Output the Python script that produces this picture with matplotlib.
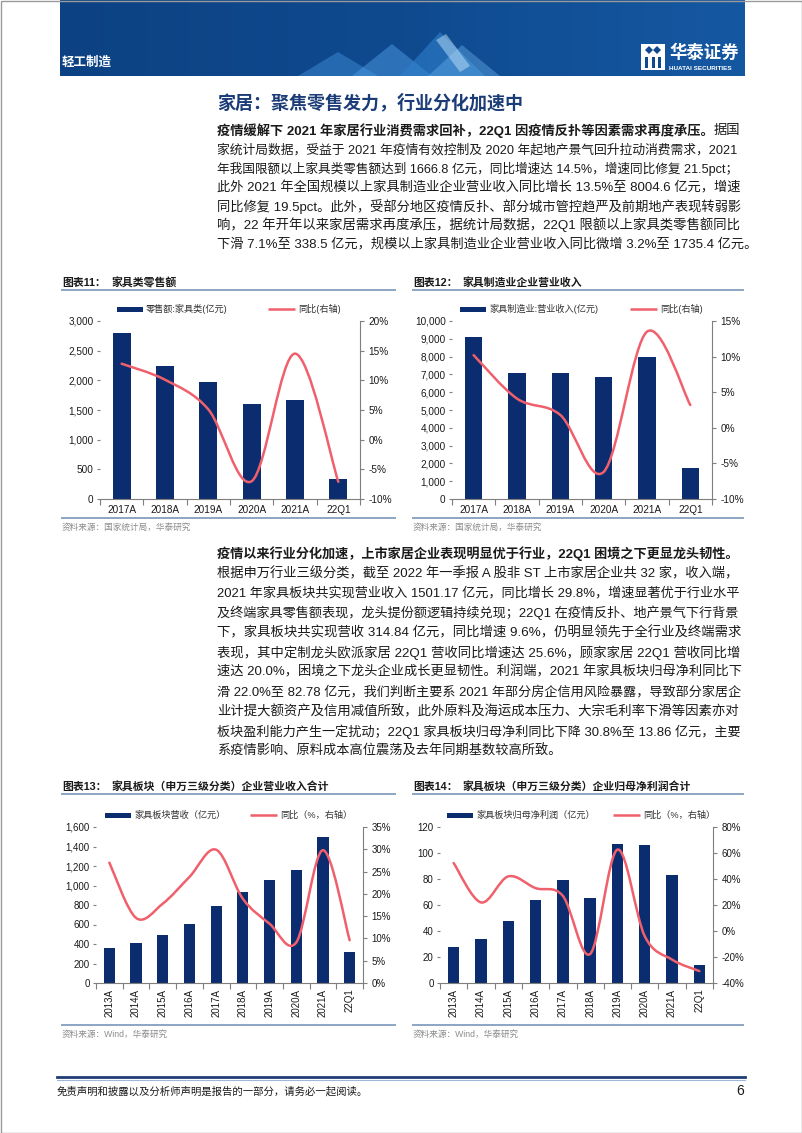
import matplotlib
matplotlib.use('Agg')
import matplotlib.pyplot as plt
import numpy as np
from matplotlib.patches import Rectangle, PathPatch, Polygon
from matplotlib.path import Path
from matplotlib.ticker import FuncFormatter, MultipleLocator, FixedLocator
from matplotlib.colors import LinearSegmentedColormap

plt.rcParams['font.family'] = ['Liberation Sans', 'Noto Sans CJK SC', 'DejaVu Sans']

# ---- data ----
cats_a = ['2017A', '2018A', '2019A', '2020A', '2021A', '22Q1']
retail = [2803, 2242, 1966, 1596, 1666.8, 338.5]          # 零售额:家具类(亿元)
retail_yoy = [12.8, 10.1, 5.1, -7.0, 14.5, -7.1]          # 同比 %
mfg_rev = [9101, 7060, 7097, 6873, 8004.6, 1735.4]        # 家具制造业:营业收入(亿元)
mfg_yoy = [10.2, 4.1, 1.8, -6.2, 13.5, 3.2]

cats_b = ['2013A', '2014A', '2015A', '2016A', '2017A', '2018A',
          '2019A', '2020A', '2021A', '22Q1']
sector_rev = [359, 414, 489, 605, 786, 937, 1060, 1162, 1501.17, 314.84]
sector_rev_yoy = [27.0, 14.6, 17.8, 23.8, 29.9, 18.9, 13.3, 9.1, 29.8, 9.6]
sector_np = [27.7, 33.6, 47.9, 63.6, 79.5, 65.6, 106.9, 106.1, 82.78, 13.86]
sector_np_yoy = [52.3, 22.0, 42.0, 33.0, 27.0, -17.7, 62.6, -4.0, -22.0, -30.8]

para1 = [
    [('疫情缓解下 2021 年家居行业消费需求回补，22Q1 因疫情反扑等因素需求再度承压。', 'bold'), ('据国', 'normal')],
    [('家统计局数据，受益于 2021 年疫情有效控制及 2020 年起地产景气回升拉动消费需求，2021', 'normal')],
    [('年我国限额以上家具类零售额达到 1666.8 亿元，同比增速达 14.5%，增速同比修复 21.5pct；', 'normal')],
    [('此外 2021 年全国规模以上家具制造业企业营业收入同比增长 13.5%至 8004.6 亿元，增速', 'normal')],
    [('同比修复 19.5pct。此外，受部分地区疫情反扑、部分城市管控趋严及前期地产表现转弱影', 'normal')],
    [('响，22 年开年以来家居需求再度承压，据统计局数据，22Q1 限额以上家具类零售额同比', 'normal')],
    [('下滑 7.1%至 338.5 亿元，规模以上家具制造业企业营业收入同比微增 3.2%至 1735.4 亿元。', 'normal')],
]
para2 = [
    [('疫情以来行业分化加速，上市家居企业表现明显优于行业，22Q1 困境之下更显龙头韧性。', 'bold')],
    [('根据申万行业三级分类，截至 2022 年一季报 A 股非 ST 上市家居企业共 32 家，收入端，', 'normal')],
    [('2021 年家具板块共实现营业收入 1501.17 亿元，同比增长 29.8%，增速显著优于行业水平', 'normal')],
    [('及终端家具零售额表现，龙头提份额逻辑持续兑现；22Q1 在疫情反扑、地产景气下行背景', 'normal')],
    [('下，家具板块共实现营收 314.84 亿元，同比增速 9.6%，仍明显领先于全行业及终端需求', 'normal')],
    [('表现，其中定制龙头欧派家居 22Q1 营收同比增速达 25.6%，顾家家居 22Q1 营收同比增', 'normal')],
    [('速达 20.0%，困境之下龙头企业成长更显韧性。利润端，2021 年家具板块归母净利同比下', 'normal')],
    [('滑 22.0%至 82.78 亿元，我们判断主要系 2021 年部分房企信用风险暴露，导致部分家居企', 'normal')],
    [('业计提大额资产及信用减值所致，此外原料及海运成本压力、大宗毛利率下滑等因素亦对', 'normal')],
    [('板块盈利能力产生一定扰动；22Q1 家具板块归母净利同比下降 30.8%至 13.86 亿元，主要', 'normal')],
    [('系疫情影响、原料成本高位震荡及去年同期基数较高所致。', 'normal')],
]

NAVY = '#0B2D6F'
RED = '#F0606C'
GREY = '#7F7F7F'
RULE = '#8CA5C4'
TEXT = '#1A1A1A'

W, H = 802, 1133
fig = plt.figure(figsize=(W / 100, H / 100), dpi=100)
renderer = fig.canvas.get_renderer()

# page-level drawing axes in pixel coordinates
bg = fig.add_axes([0, 0, 1, 1], zorder=-5)
bg.set_xlim(0, W)
bg.set_ylim(H, 0)
bg.axis('off')
bg.add_patch(Rectangle((0.5, 0.5), W - 1, H - 1, fill=False, edgecolor='#9A9A9A', lw=1))

# header banner
grad = LinearSegmentedColormap.from_list('banner', ['#0C4283', '#0F4A8F', '#1558A2'])
bg.imshow(np.linspace(0, 1, 256)[None, :], extent=(60, 745, 76, 0), cmap=grad, aspect='auto')
for pts, c, a in [
    ([(298, 76), (338, 52), (378, 76)], '#3D8AD6', 0.5),
    ([(352, 76), (392, 44), (432, 76)], '#4C9BE2', 0.5),
    ([(400, 76), (440, 32), (485, 76)], '#2F7FCC', 0.6),
    ([(428, 76), (462, 45), (500, 76)], '#6BB4EE', 0.4),
    ([(436, 40), (446, 34), (470, 66), (460, 72)], '#BFE2FA', 0.5),
]:
    bg.add_patch(Polygon(pts, closed=True, color=c, alpha=a, lw=0))
bg.text(62, 63, '轻工制造', color='white', fontsize=9, fontweight='bold', va='center')
bg.add_patch(Rectangle((641, 44), 24, 26, color='white', lw=0))
bg.add_patch(Polygon([(645, 50), (649, 46), (653, 50), (649, 54)], color='#0F4A8F', lw=0))
bg.add_patch(Polygon([(653, 50), (657, 46), (661, 50), (657, 54)], color='#0F4A8F', lw=0))
for xb in (645, 651.5, 658):
    bg.add_patch(Rectangle((xb, 57), 3, 11, color='#0F4A8F', lw=0))
bg.text(669, 52, '华泰证券', color='white', fontsize=12.5, fontweight='bold', va='center')
bg.text(669, 68, 'HUATAI SECURITIES', color='white', fontsize=4.6, fontweight='bold', va='center')

# section title
bg.text(217, 103, '家居：聚焦零售发力，行业分化加速中', color='#1C3C78', fontsize=13,
        fontweight='bold', va='center')


def text_width(s, size, weight):
    t = bg.text(0, 0, s, fontsize=size, fontweight=weight)
    w = t.get_window_extent(renderer).width
    t.remove()
    return w


def draw_para(lines, x, y0, dy, size, width):
    for i, parts in enumerate(lines):
        fs = size
        if i < len(lines) - 1:
            total = sum(text_width(s, size, wt) for s, wt in parts)
            fs = size * np.clip(width / total, 0.92, 1.08)
        cx = x
        for s, wt in parts:
            t = bg.text(cx, y0 + i * dy, s, fontsize=fs, fontweight=wt, color=TEXT,
                        va='center', ha='left')
            cx += t.get_window_extent(renderer).width


draw_para(para1, 217, 131, 18.8, 9.5, 525)
draw_para(para2, 217, 554, 19.7, 9.5, 525)


def chart_frame(x0, x1, y_title, num, title, y_src, src):
    bg.text(x0, y_title, f'图表{num}：', fontsize=7.8, fontweight='bold', color=TEXT, va='center')
    bg.text(x0 + 50, y_title, title, fontsize=7.8, fontweight='bold', color=TEXT, va='center')
    bg.plot([x0, x1], [y_title + 6.5, y_title + 6.5], color=RULE, lw=1.4)
    bg.plot([x0, x1], [y_src - 9, y_src - 9], color=RULE, lw=1.4)
    bg.text(x0, y_src, src, fontsize=6.2, color='#8C8C8C', va='center')


def legend(y, bx, btext, lx, ltext):
    bg.add_patch(Rectangle((bx, y - 2.5), 26, 5, color=NAVY, lw=0))
    bg.text(bx + 29, y, btext, fontsize=6.6, color='#333333', va='center')
    bg.plot([lx, lx + 27], [y, y], color=RED, lw=1.8, solid_capstyle='butt')
    bg.text(lx + 30, y, ltext, fontsize=6.6, color='#333333', va='center')


def smooth_path(xs, ys):
    pts = np.column_stack([xs, ys]).astype(float)
    n = len(pts)
    verts = [pts[0]]
    codes = [Path.MOVETO]
    for i in range(n - 1):
        p0 = pts[i - 1] if i > 0 else pts[i]
        p1, p2 = pts[i], pts[i + 1]
        p3 = pts[i + 2] if i + 2 < n else pts[i + 1]
        verts += [p1 + (p2 - p0) / 6, p2 - (p3 - p1) / 6, p2]
        codes += [Path.CURVE4] * 3
    return Path(verts, codes)


def chart(box, cats, bars, yoy, ylim, ystep, y2lim, y2step, rot, bw, fs):
    l, t, r, b = box
    ax = fig.add_axes([l / W, 1 - b / H, (r - l) / W, (b - t) / H])
    ax.patch.set_alpha(0)
    x = np.arange(len(cats))
    ax.bar(x, bars, width=bw, color=NAVY, zorder=2)
    ax.set_xlim(-0.5, len(cats) - 0.5)
    ax.set_ylim(*ylim)
    ax.yaxis.set_major_locator(MultipleLocator(ystep))
    ax.yaxis.set_major_formatter(FuncFormatter(lambda v, p: f'{v:,.0f}'))
    ax.set_xticks(x)
    if rot:
        ax.set_xticklabels(cats, rotation=90, va='top', ha='center')
    else:
        ax.set_xticklabels(cats)
    ax.xaxis.set_minor_locator(FixedLocator(np.arange(len(cats) + 1) - 0.5))
    ax.tick_params(axis='x', which='major', length=0, pad=4, labelsize=fs, labelcolor=TEXT)
    ax.tick_params(axis='x', which='minor', length=4, color=GREY, width=0.8)
    ax.tick_params(axis='y', length=2.5, color=GREY, width=0.8, pad=2, labelsize=fs, labelcolor=TEXT)
    for s in ('top', 'left', 'right'):
        ax.spines[s].set_visible(False)
    ax.spines['bottom'].set_color(GREY)
    ax.spines['bottom'].set_linewidth(0.8)

    ax2 = ax.twinx()
    ax2.set_ylim(*y2lim)
    ax2.yaxis.set_major_locator(MultipleLocator(y2step))
    ax2.yaxis.set_major_formatter(FuncFormatter(lambda v, p: f'{v:.0f}%'))
    ax2.tick_params(axis='y', length=3, color=GREY, width=0.8, pad=3, labelsize=fs, labelcolor=TEXT)
    for s in ('top', 'left', 'bottom'):
        ax2.spines[s].set_visible(False)
    ax2.spines['right'].set_color(GREY)
    ax2.spines['right'].set_linewidth(0.8)
    ax2.add_patch(PathPatch(smooth_path(x, yoy), fill=False, edgecolor=RED, lw=1.8,
                            capstyle='round', joinstyle='round'))
    return ax, ax2


# 图表11
chart_frame(62, 395, 283, 11, '家具类零售额', 527, '资料来源：国家统计局，华泰研究')
legend(309, 117, '零售额:家具类(亿元)', 268, '同比(右轴)')
chart((100, 321, 360, 499), cats_a, retail, retail_yoy, (0, 3000), 500, (-10, 20), 5, False, 0.42, 7.2)

# 图表12
chart_frame(413, 743, 283, 12, '家具制造业企业营业收入', 527, '资料来源：国家统计局，华泰研究')
legend(309, 460, '家具制造业:营业收入(亿元)', 630, '同比(右轴)')
chart((452, 321, 712, 499), cats_a, mfg_rev, mfg_yoy, (0, 10000), 1000, (-10, 15), 5, False, 0.4, 7.2)

# 图表13
chart_frame(62, 395, 787, 13, '家具板块（申万三级分类）企业营业收入合计', 1034, '资料来源：Wind，华泰研究')
legend(815, 105, '家具板块营收（亿元）', 250, '同比（%，右轴）')
chart((96, 827, 363, 983), cats_b, sector_rev, sector_rev_yoy, (0, 1600), 200, (0, 35), 5, True, 0.42, 7.0)

# 图表14
chart_frame(413, 743, 787, 14, '家具板块（申万三级分类）企业归母净利润合计', 1034, '资料来源：Wind，华泰研究')
legend(815, 447, '家具板块归母净利润（亿元）', 613, '同比（%，右轴）')
chart((440, 827, 713, 983), cats_b, sector_np, sector_np_yoy, (0, 120), 20, (-40, 80), 20, True, 0.42, 7.0)

# footer
bg.plot([57, 745], [1077, 1077], color='#1F3E78', lw=2)
bg.plot([57, 745], [1079.5, 1079.5], color='#9DB8DA', lw=0.8)
bg.text(57, 1091, '免责声明和披露以及分析师声明是报告的一部分，请务必一起阅读。', fontsize=7.5,
        color=TEXT, va='center')
bg.text(744, 1091, '6', fontsize=10, color=TEXT, va='center', ha='right')

fig.savefig('out.png', dpi=100)
